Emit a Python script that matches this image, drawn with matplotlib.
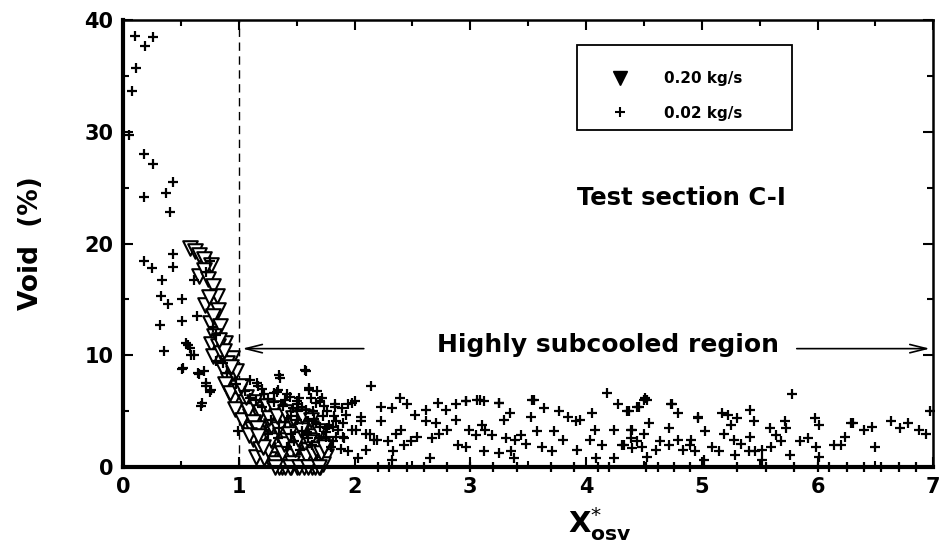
import matplotlib
matplotlib.use("Agg")
import matplotlib.pyplot as plt
from matplotlib.lines import Line2D
from matplotlib.patches import Rectangle
from matplotlib.ticker import MultipleLocator

plt.rcParams['font.family'] = ['DejaVu Sans']

# ---- data: 0.20 kg/s (triangles) ----
tri_x = [0.58, 0.62, 0.66, 0.70, 0.76, 0.66, 0.70, 0.73, 0.78, 0.81, 0.71, 0.74, 0.82,
         0.75, 0.78, 0.84, 0.79, 0.76, 0.88, 0.82, 0.78, 0.85, 0.94, 0.90, 0.86, 0.91,
         0.95, 0.88, 0.95, 0.92, 1.00, 1.01, 0.97, 1.05, 1.07, 1.03, 1.10, 1.12, 1.15,
         1.18, 1.20, 1.24, 1.29, 1.22, 1.27, 1.15, 1.32, 1.35, 1.30, 1.37, 1.33, 1.40,
         1.42, 1.45, 1.47, 1.50, 1.52, 1.55, 1.57, 1.60, 1.62, 1.65, 1.68, 1.70, 1.72,
         1.75, 1.38, 1.44, 1.26, 1.35, 1.48, 1.58, 1.63, 1.40, 1.54, 1.46, 1.53, 1.66,
         1.28, 1.19, 1.11, 1.08, 1.06, 1.13, 1.18, 1.24, 1.30, 1.36, 1.42, 1.50, 1.56,
         1.60, 1.68, 1.73, 1.35, 1.40, 1.56, 1.66,
         1.22, 1.25, 1.28, 1.31, 1.34, 1.37, 1.39, 1.43, 1.46, 1.49, 1.51, 1.54, 1.58,
         1.61, 1.64, 1.67, 1.71, 1.74, 1.44, 1.52, 1.60, 1.69, 1.31, 1.12, 1.16, 1.21,
         1.09, 1.17, 1.26, 1.33, 1.40, 1.47, 1.55, 1.62, 1.69, 1.02, 0.98, 0.93, 0.87,
         0.83]
tri_y = [19.6, 19.3, 19.0, 18.6, 18.1, 17.1, 17.6, 16.8, 16.2, 15.3, 14.5, 15.2, 14.1,
         12.9, 13.5, 12.6, 11.7, 11.0, 11.1, 10.8, 9.9, 10.2, 9.8, 9.3, 8.8, 7.8,
         8.4, 7.4, 6.0, 6.6, 6.8, 4.8, 5.2, 5.8, 3.6, 4.2, 4.6, 2.5, 0.9,
         1.6, 3.2, 2.1, 3.0, 4.2, 4.8, 5.2, 4.1, 5.0, 1.2, 0.0, 2.3, 3.4,
         1.5, 0.0, 2.6, 0.0, 4.0, 1.2, 2.8, 0.3, 3.5, 1.8, 0.8, 0.0, 2.0,
         1.0, 4.4, 4.7, 0.7, 1.9, 3.8, 4.5, 0.0, 0.6, 2.2, 1.0, 0.5, 2.8,
         3.7, 2.6, 3.4, 5.1, 6.3, 5.8, 4.9, 5.5, 5.3, 2.9, 2.4, 3.1, 3.6,
         1.5, 2.4, 0.3, 0.0, 0.0, 0.0, 0.0,
         0.8, 1.5, 2.4, 0.4, 3.4, 1.3, 2.1, 3.0, 0.4, 1.6, 2.5, 3.3, 1.0,
         2.2, 1.2, 1.6, 1.3, 1.8, 0.0, 0.0, 0.0, 0.0, 0.0, 4.0, 3.5, 1.8,
         2.9, 2.8, 4.4, 4.6, 4.9, 4.4, 4.6, 4.2, 3.2, 7.3, 8.6, 9.0, 10.4,
         11.4]

# ---- data: 0.02 kg/s (plus) ----
plus_x = [0.10, 0.19, 0.26, 0.11, 0.08, 0.05, 0.18, 0.26, 0.18, 0.37, 0.43, 0.41, 0.18,
          0.25, 0.43, 0.43, 0.34, 0.33, 0.39, 0.51, 0.32, 0.51, 0.35, 0.54, 0.58, 0.59,
          0.51, 0.61, 0.64, 0.67, 0.72, 0.75, 0.66, 0.70, 1.36, 1.58, 1.61, 1.17, 0.99,
          1.33, 1.44, 1.51, 1.70, 1.74, 1.75, 1.64,
          0.52, 0.61, 0.56, 0.65, 0.72, 0.76, 0.68, 1.16, 1.35, 1.57, 1.34, 1.42, 1.50,
          1.61, 1.58, 1.67, 1.72, 1.76, 1.83, 1.98, 1.93, 1.84, 1.76, 1.67, 1.60, 1.50,
          1.98, 2.06, 2.10, 2.19, 1.90, 1.81,
          0.80, 0.78, 0.72, 0.75, 0.80, 0.86, 0.90, 0.98, 1.05, 1.10, 1.15, 1.20, 1.25,
          1.30, 1.38, 1.45, 1.50, 1.55, 1.60, 1.65, 1.70, 1.75, 1.80, 1.25, 1.35, 1.45,
          1.55, 1.20, 1.10, 1.40,
          1.28, 1.34, 1.42, 1.48, 1.53, 1.59, 1.63, 1.69, 1.73, 1.78, 1.82, 1.86, 1.88,
          1.40, 1.47, 1.52, 1.62, 1.68, 1.30, 1.22,
          2.14, 1.83, 1.89, 1.94, 2.00, 1.81, 1.90, 1.84, 1.91, 1.94, 2.03, 2.01, 2.06,
          2.10, 2.13, 2.17, 2.23, 2.32, 2.39, 2.45, 2.23, 2.29, 2.33, 2.32, 2.36, 2.40,
          2.43, 2.49, 2.52, 2.54, 2.62, 2.62, 2.65, 2.70, 2.72, 2.67, 2.73, 2.79, 2.80,
          2.88, 2.88, 2.89, 2.96, 2.96, 2.99, 3.06, 3.12, 3.05, 3.10, 3.13, 3.12, 3.19,
          3.25, 3.25, 3.29, 3.34, 3.31, 3.35, 3.39, 3.44, 3.38, 3.48, 3.53, 3.52, 3.58,
          3.64, 3.62, 3.71, 3.72, 3.77, 3.80, 3.84, 3.91, 3.92, 3.95, 4.03, 4.05, 4.08,
          4.09, 4.14, 4.18, 4.24, 4.24, 4.28, 4.35, 4.31, 4.39, 4.40, 4.44, 4.50, 4.48,
          4.37, 4.46, 4.53, 4.39, 4.50, 4.54, 4.33, 4.40, 4.44, 4.53, 4.60, 4.64, 4.72,
          4.73, 4.79, 4.72, 4.79, 4.84, 4.90, 4.91, 4.97, 4.94, 5.02, 5.03, 5.09, 5.15,
          5.17, 5.23, 5.19, 5.25, 5.28, 5.29, 5.30, 5.34, 5.42, 5.42, 5.45, 5.46, 5.41,
          5.52, 5.52, 5.59, 5.60, 5.64, 5.68, 5.72, 5.73, 5.78, 5.76, 5.85, 5.92, 5.98,
          6.01, 5.99, 6.01, 6.14, 6.20, 6.24, 6.31, 6.40, 6.47, 6.50, 6.63, 6.71, 6.78,
          6.88, 6.94, 6.97,
          4.51, 3.55, 2.96, 3.08, 3.25, 4.74, 4.97, 6.29,
          2.30, 2.45, 2.60, 3.00, 3.40, 3.70, 4.10, 4.20, 4.52, 4.62, 4.76, 5.30, 5.55,
          5.80, 6.00, 6.10, 6.25, 6.40, 6.55, 6.70, 6.85, 2.20, 2.80, 3.20, 3.90, 4.90]
plus_y = [38.6, 37.7, 38.5, 35.7, 33.7, 29.7, 28.0, 27.1, 24.2, 24.5, 25.5, 22.8, 18.4,
          17.8, 19.1, 17.9, 16.7, 15.3, 14.6, 15.0, 12.7, 13.1, 10.4, 11.1, 10.7, 10.0,
          8.8, 16.7, 13.5, 5.5, 7.3, 6.7, 8.3, 8.6, 8.0, 8.6, 6.9, 7.3, 3.2,
          6.7, 6.3, 5.6, 5.9, 5.5, 3.1, 5.0,
          8.9, 10.0, 10.9, 8.4, 7.5, 6.9, 5.7, 7.5, 8.2, 8.7, 6.9, 6.5, 5.9,
          7.1, 5.1, 5.7, 6.2, 5.0, 5.4, 5.7, 4.7, 4.1, 3.5, 3.9, 4.1, 5.0,
          3.3, 4.1, 3.0, 2.4, 2.7, 2.3,
          11.8, 12.5, 17.5, 18.4, 9.5, 9.3, 8.4, 7.4, 6.8, 6.2, 6.0, 5.4, 6.1,
          5.8, 5.5, 4.6, 4.2, 3.2, 2.6, 4.3, 3.6, 2.7, 1.8, 3.0, 3.5, 3.0,
          5.4, 7.0, 7.8, 6.0,
          4.2, 2.6, 1.8, 2.3, 1.5, 3.1, 2.0, 2.6, 4.6, 3.8, 4.6, 3.3, 1.6,
          4.0, 5.3, 6.2, 6.2, 6.8, 6.6, 6.5,
          7.3, 5.6, 5.3, 5.6, 5.9, 3.6, 3.9, 2.7, 2.6, 1.4, 0.8, 3.3, 4.5,
          1.5, 3.0, 2.4, 5.4, 5.3, 6.2, 5.6, 4.1, 2.3, 1.4, 0.6, 3.0, 3.3,
          2.0, 2.3, 4.7, 2.7, 5.1, 4.1, 0.8, 3.9, 5.7, 2.6, 3.0, 5.1, 3.3,
          5.6, 4.2, 2.0, 5.9, 1.8, 3.3, 6.0, 5.9, 2.9, 3.8, 3.3, 1.4, 2.9,
          5.7, 1.3, 4.2, 4.8, 2.6, 1.4, 2.4, 2.9, 0.8, 2.1, 6.0, 4.5, 3.2,
          5.3, 1.8, 1.4, 3.2, 5.0, 2.4, 4.5, 4.1, 1.5, 4.2, 2.4, 4.8, 3.3,
          0.8, 2.0, 6.6, 3.3, 0.8, 5.6, 5.0, 2.0, 2.6, 3.3, 5.4, 6.0, 1.8,
          5.0, 5.4, 6.0, 3.3, 3.0, 3.9, 2.0, 1.7, 2.3, 0.9, 1.5, 2.3, 3.5,
          5.6, 4.8, 2.0, 2.4, 1.5, 2.0, 2.4, 4.4, 1.4, 0.6, 3.2, 1.8, 1.4,
          4.8, 4.7, 3.0, 3.8, 2.4, 1.1, 4.4, 2.1, 5.1, 2.7, 4.1, 1.4, 1.4,
          1.5, 0.6, 3.5, 1.8, 2.9, 2.3, 4.1, 3.5, 6.5, 1.1, 2.3, 2.6, 4.4,
          3.8, 1.8, 0.9, 2.0, 2.0, 2.7, 3.9, 3.3, 3.6, 1.8, 4.1, 3.5, 3.9,
          3.3, 3.0, 5.0,
          6.2, 6.0, 5.9, 6.0, 5.7, 5.6, 4.5, 3.9,
          0.0, 0.0, 0.0, 0.0, 0.0, 0.0, 0.0, 0.0, 0.0, 0.0, 0.0, 0.0, 0.0,
          0.0, 0.0, 0.0, 0.0, 0.0, 0.0, 0.0, 0.0, 0.0, 0.0, 0.0, 0.0, 0.0]

legend_labels = ['0.20 kg/s', '0.02 kg/s']
x_ticks = [0, 1, 2, 3, 4, 5, 6, 7]
y_ticks = [0, 10, 20, 30, 40]

fig = plt.figure(figsize=(9.39, 5.45), dpi=100)
ax = fig.add_axes([0.131, 0.143, 0.863, 0.820])

ax.axvline(1.0, color='black', lw=1.0, ls=(0, (6, 4)), zorder=1)
ax.scatter(tri_x, tri_y, marker='v', s=110, facecolors='white', edgecolors='black',
           linewidths=1.5, zorder=2, clip_on=False)
ax.scatter(plus_x, plus_y, marker='+', s=45, color='black', linewidths=1.6, zorder=3,
           clip_on=False)

ax.set_xlim(0, 7)
ax.set_ylim(0, 40)
ax.set_xticks(x_ticks)
ax.set_yticks(y_ticks)
ax.xaxis.set_minor_locator(MultipleLocator(0.5))
ax.yaxis.set_minor_locator(MultipleLocator(5))
ax.tick_params(which='both', direction='in', top=True, right=True, width=1.5)
ax.tick_params(which='major', length=7)
ax.tick_params(which='minor', length=4)
ax.tick_params(axis='both', which='major', labelsize=15, pad=7)
for lab in ax.get_xticklabels() + ax.get_yticklabels():
    lab.set_fontweight('bold')

for side in ['left', 'bottom']:
    ax.spines[side].set_linewidth(3.0)
for side in ['top', 'right']:
    ax.spines[side].set_linewidth(1.8)

ax.set_ylabel('Void  (%)', fontsize=19, fontweight='bold', labelpad=29)
ax.set_xlabel(r'$\mathbf{X}^{*}_{\mathbf{osv}}$', fontsize=21)
ax.xaxis.set_label_coords(0.588, -0.085)

ax.text(3.92, 24.1, 'Test section C-I', fontsize=17.5, fontweight='bold',
        ha='left', va='center')
ax.text(2.71, 10.9, 'Highly subcooled region', fontsize=18, fontweight='bold',
        ha='left', va='center')
ax.annotate('', xy=(1.03, 10.6), xytext=(2.08, 10.6),
            arrowprops=dict(arrowstyle='->,head_length=1.2,head_width=0.3', lw=1.2,
                            color='black', shrinkA=0, shrinkB=0))
ax.annotate('', xy=(6.97, 10.6), xytext=(5.82, 10.6),
            arrowprops=dict(arrowstyle='->,head_length=1.2,head_width=0.3', lw=1.2,
                            color='black', shrinkA=0, shrinkB=0))

# legend frame and entries
ax.add_patch(Rectangle((0.560, 0.754), 0.265, 0.190, transform=ax.transAxes,
                       facecolor='white', edgecolor='black', lw=1.3, zorder=4))
handles = [Line2D([], [], marker='v', color='black', ls='none', markersize=10),
           Line2D([], [], marker='+', color='black', ls='none', markersize=7,
                  markeredgewidth=1.5)]
leg = ax.legend(handles, legend_labels, loc='upper left',
                bbox_to_anchor=(0.56, 0.924, 0.265, 0.0), mode='expand',
                prop={'weight': 'bold', 'size': 11}, frameon=False,
                borderpad=1.1, handlelength=3.4,
                handletextpad=1.2, labelspacing=1.3, borderaxespad=0)
leg.set_zorder(5)

fig.savefig('out.png', dpi=100)
